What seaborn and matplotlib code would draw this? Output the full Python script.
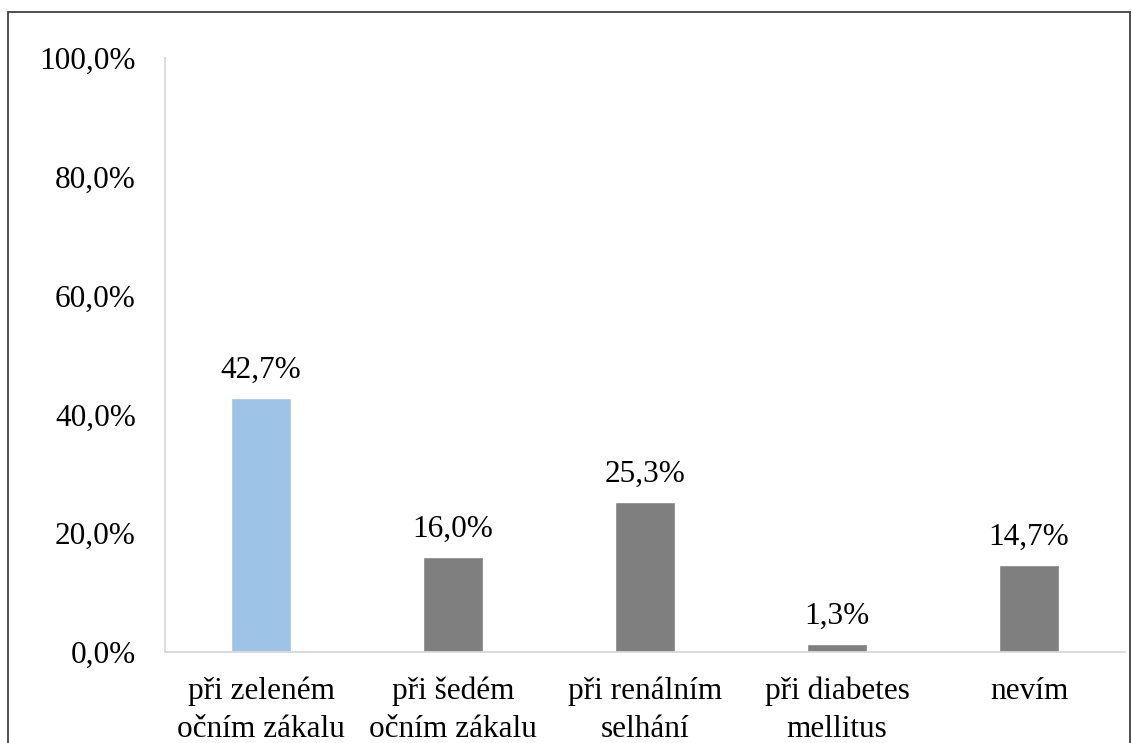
import matplotlib
matplotlib.use("Agg")
import matplotlib.pyplot as plt
import seaborn as sns
import pandas as pd
from matplotlib.patches import Rectangle

categories = ["při zeleném\nočním zákalu", "při šedém\nočním zákalu", "při renálním\nselhání",
              "při diabetes\nmellitus", "nevím"]
values = [42.7, 16.0, 25.3, 1.3, 14.7]
colors = ["#9DC3E6", "#7F7F7F", "#7F7F7F", "#7F7F7F", "#7F7F7F"]
yticks = [0, 20, 40, 60, 80, 100]

sns.set_style("white")
plt.rcParams['font.family'] = ['Liberation Serif', 'DejaVu Serif']
plt.rcParams['text.color'] = 'black'
plt.rcParams['xtick.color'] = 'black'
plt.rcParams['ytick.color'] = 'black'

FS = 22.5
df = pd.DataFrame({"cat": categories, "val": values})
fig = plt.figure(figsize=(11.32, 7.43), dpi=100)
ax = fig.add_axes([165/1132, 1-652/743, (1125-165)/1132, (652-58)/743])
sns.barplot(data=df, x="cat", y="val", hue="cat", palette=colors, legend=False,
            width=0.31, ax=ax, saturation=1)
ax.set_ylim(0, 100)
ax.set_xlim(-0.5, 4.5)
ax.set_yticks(yticks)
ax.set_yticklabels([f"{t:.1f}%".replace(".", ",") for t in yticks], fontsize=FS)
ax.tick_params(axis='x', labelsize=FS, length=0, pad=18)
ax.tick_params(axis='y', length=0, pad=21)
ax.set_xlabel("")
ax.set_ylabel("")
for s in ["top", "right"]:
    ax.spines[s].set_visible(False)
for s in ["left", "bottom"]:
    ax.spines[s].set_color("#D9D9D9")
    ax.spines[s].set_linewidth(1.3)
for i, v in enumerate(values):
    ax.text(i, v + 2.2, f"{v:.1f}%".replace(".", ","), ha="center", va="bottom", fontsize=FS)
for lab in ax.get_xticklabels():
    lab.set_multialignment("center")
    lab.set_linespacing(1.38)

fig.patches.append(Rectangle((8/1132, -0.1), 1122/1132, 1.1 - 12/743, transform=fig.transFigure,
                             fill=False, edgecolor="#404040", linewidth=1.3, figure=fig))
fig.savefig("out.png", dpi=100)
